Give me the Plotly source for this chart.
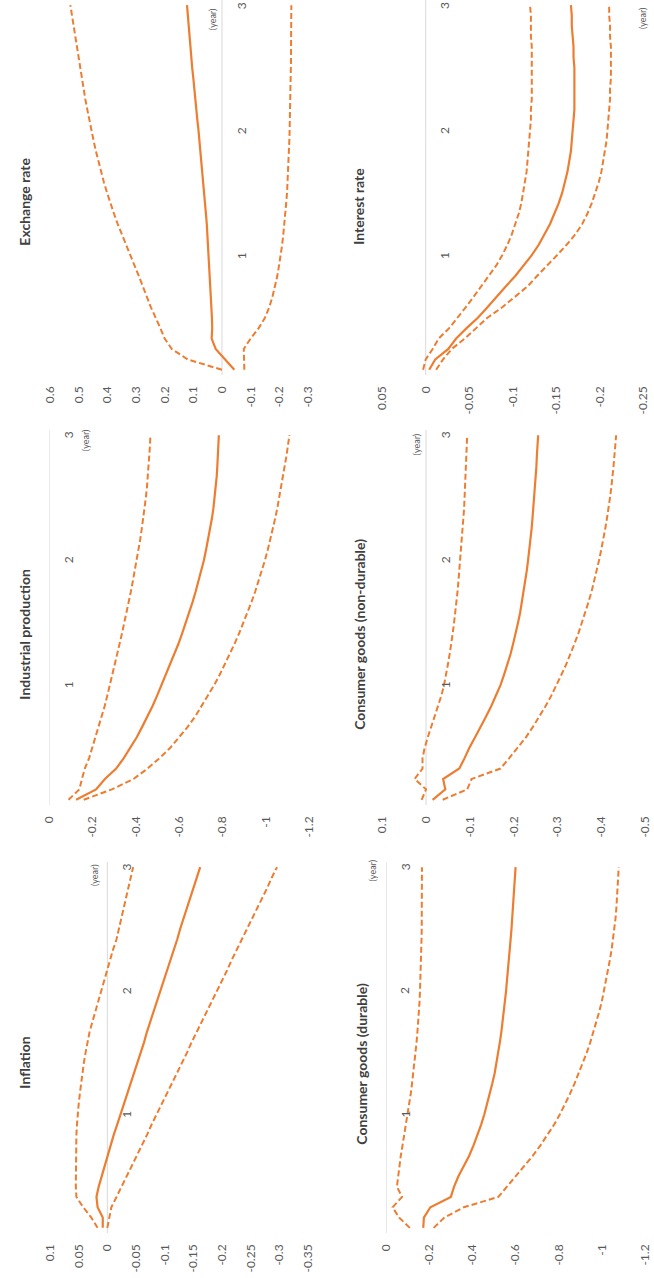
import plotly.graph_objects as go

# ---------------- data ----------------
months = list(range(1, 37))
year_ticks = [12, 24, 36]
year_labels = ["1", "2", "3"]

titles = ["Inflation", "Industrial production", "Exchange rate",
          "Consumer goods (durable)", "Consumer goods (non-durable)", "Interest rate"]

inflation_mid = [0.008, 0.008, 0.017, 0.019, 0.015, 0.010, 0.005, 0.000, -0.006, -0.011, -0.017, -0.023,
                 -0.029, -0.035, -0.040, -0.046, -0.052, -0.058, -0.064, -0.069, -0.075, -0.081, -0.087, -0.093,
                 -0.098, -0.104, -0.110, -0.116, -0.122, -0.127, -0.133, -0.139, -0.145, -0.150, -0.156, -0.162]
inflation_hi = [0.017, 0.028, 0.042, 0.054, 0.055, 0.055, 0.055, 0.055, 0.055, 0.054, 0.053, 0.052,
                0.050, 0.048, 0.046, 0.044, 0.041, 0.038, 0.035, 0.031, 0.026, 0.021, 0.016, 0.010,
                0.005, 0.000, -0.005, -0.010, -0.016, -0.020, -0.024, -0.029, -0.033, -0.037, -0.041, -0.045]
inflation_lo = [0.000, -0.003, -0.007, -0.016, -0.025, -0.034, -0.042, -0.051, -0.060, -0.069, -0.077, -0.086,
                -0.095, -0.104, -0.112, -0.121, -0.130, -0.139, -0.147, -0.156, -0.165, -0.174, -0.182, -0.191,
                -0.200, -0.209, -0.217, -0.226, -0.235, -0.244, -0.252, -0.261, -0.270, -0.279, -0.287, -0.296]

indprod_mid = [-0.125, -0.217, -0.258, -0.310, -0.345, -0.377, -0.405, -0.430, -0.455, -0.478, -0.499, -0.519,
               -0.540, -0.560, -0.580, -0.598, -0.615, -0.632, -0.648, -0.663, -0.677, -0.690, -0.703, -0.715,
               -0.725, -0.735, -0.744, -0.752, -0.759, -0.765, -0.770, -0.774, -0.777, -0.780, -0.782, -0.784]
indprod_hi = [-0.090, -0.140, -0.152, -0.165, -0.185, -0.200, -0.215, -0.230, -0.244, -0.257, -0.269, -0.281,
              -0.293, -0.304, -0.315, -0.326, -0.337, -0.348, -0.358, -0.368, -0.378, -0.387, -0.396, -0.405,
              -0.413, -0.421, -0.428, -0.435, -0.441, -0.447, -0.452, -0.456, -0.460, -0.463, -0.466, -0.468]
indprod_lo = [-0.160, -0.290, -0.390, -0.455, -0.510, -0.560, -0.600, -0.640, -0.675, -0.705, -0.735, -0.762,
              -0.788, -0.812, -0.835, -0.857, -0.878, -0.898, -0.917, -0.935, -0.952, -0.968, -0.983, -0.997,
              -1.010, -1.022, -1.033, -1.044, -1.054, -1.063, -1.072, -1.080, -1.088, -1.096, -1.103, -1.110]

exrate_mid = [-0.043, -0.012, 0.022, 0.036, 0.034, 0.035, 0.037, 0.038, 0.039, 0.041, 0.043, 0.045,
              0.047, 0.050, 0.053, 0.056, 0.059, 0.062, 0.065, 0.068, 0.071, 0.074, 0.078, 0.082,
              0.086, 0.089, 0.093, 0.097, 0.100, 0.104, 0.107, 0.110, 0.113, 0.116, 0.119, 0.122]
exrate_hi = [0.000, 0.120, 0.175, 0.200, 0.215, 0.232, 0.248, 0.262, 0.275, 0.290, 0.305, 0.320,
             0.335, 0.350, 0.364, 0.377, 0.390, 0.401, 0.412, 0.422, 0.431, 0.440, 0.448, 0.456,
             0.463, 0.470, 0.477, 0.483, 0.489, 0.495, 0.501, 0.507, 0.513, 0.518, 0.524, 0.529]
exrate_lo = [-0.078, -0.077, -0.076, -0.100, -0.128, -0.150, -0.165, -0.176, -0.185, -0.193, -0.199, -0.205,
             -0.210, -0.214, -0.218, -0.221, -0.224, -0.227, -0.229, -0.231, -0.233, -0.234, -0.235, -0.236,
             -0.237, -0.238, -0.239, -0.239, -0.240, -0.240, -0.241, -0.241, -0.241, -0.242, -0.242, -0.242]

durable_mid = [-0.172, -0.175, -0.205, -0.300, -0.315, -0.335, -0.360, -0.385, -0.405, -0.423, -0.440, -0.455,
               -0.468, -0.480, -0.492, -0.503, -0.512, -0.520, -0.527, -0.534, -0.540, -0.546, -0.551, -0.556,
               -0.560, -0.565, -0.569, -0.573, -0.577, -0.581, -0.584, -0.588, -0.591, -0.594, -0.597, -0.600]
durable_hi = [-0.110, -0.060, -0.030, -0.074, -0.050, -0.055, -0.062, -0.068, -0.076, -0.084, -0.092, -0.100,
              -0.107, -0.114, -0.120, -0.126, -0.132, -0.137, -0.141, -0.145, -0.149, -0.152, -0.155, -0.157,
              -0.159, -0.161, -0.162, -0.163, -0.164, -0.165, -0.165, -0.166, -0.166, -0.166, -0.166, -0.166]
durable_lo = [-0.220, -0.270, -0.360, -0.520, -0.560, -0.600, -0.640, -0.680, -0.715, -0.748, -0.778, -0.805,
              -0.830, -0.852, -0.873, -0.893, -0.912, -0.930, -0.946, -0.961, -0.975, -0.988, -1.000, -1.010,
              -1.020, -1.029, -1.037, -1.045, -1.052, -1.058, -1.063, -1.067, -1.070, -1.073, -1.076, -1.078]

nondur_mid = [-0.015, -0.044, -0.039, -0.076, -0.088, -0.099, -0.112, -0.125, -0.137, -0.149, -0.160, -0.170,
              -0.178, -0.186, -0.193, -0.199, -0.205, -0.210, -0.215, -0.219, -0.223, -0.227, -0.230, -0.233,
              -0.236, -0.239, -0.241, -0.243, -0.245, -0.247, -0.249, -0.250, -0.252, -0.253, -0.255, -0.256]
nondur_hi = [0.010, 0.000, 0.026, 0.008, 0.008, 0.003, -0.004, -0.012, -0.020, -0.028, -0.035, -0.041,
             -0.046, -0.050, -0.054, -0.058, -0.061, -0.064, -0.067, -0.070, -0.072, -0.074, -0.076, -0.078,
             -0.080, -0.082, -0.084, -0.085, -0.087, -0.088, -0.089, -0.090, -0.091, -0.092, -0.093, -0.094]
nondur_lo = [-0.038, -0.094, -0.104, -0.170, -0.190, -0.210, -0.228, -0.244, -0.259, -0.273, -0.286, -0.298,
             -0.309, -0.320, -0.330, -0.339, -0.348, -0.356, -0.364, -0.371, -0.378, -0.384, -0.390, -0.395,
             -0.400, -0.405, -0.409, -0.413, -0.417, -0.420, -0.423, -0.426, -0.428, -0.430, -0.432, -0.434]

interest_mid = [-0.004, -0.011, -0.026, -0.035, -0.047, -0.060, -0.071, -0.081, -0.092, -0.103, -0.113, -0.122,
                -0.130, -0.137, -0.143, -0.148, -0.153, -0.157, -0.160, -0.163, -0.165, -0.167, -0.168, -0.169,
                -0.170, -0.171, -0.171, -0.171, -0.171, -0.171, -0.170, -0.170, -0.169, -0.168, -0.168, -0.167]
interest_hi = [0.003, 0.000, -0.008, -0.015, -0.027, -0.037, -0.046, -0.055, -0.064, -0.073, -0.081, -0.088,
               -0.094, -0.099, -0.103, -0.107, -0.110, -0.112, -0.114, -0.116, -0.117, -0.118, -0.119, -0.120,
               -0.121, -0.121, -0.122, -0.122, -0.122, -0.122, -0.122, -0.122, -0.121, -0.121, -0.121, -0.120]
interest_lo = [-0.012, -0.020, -0.030, -0.045, -0.058, -0.071, -0.088, -0.102, -0.117, -0.128, -0.140, -0.151,
               -0.162, -0.172, -0.180, -0.186, -0.191, -0.195, -0.199, -0.202, -0.204, -0.206, -0.208, -0.209,
               -0.210, -0.211, -0.212, -0.212, -0.213, -0.213, -0.213, -0.213, -0.212, -0.212, -0.211, -0.211]

inflation_ticks = [0.1, 0.05, 0, -0.05, -0.1, -0.15, -0.2, -0.25, -0.3, -0.35]
inflation_ticktext = ["0.1", "0.05", "0", "-0.05", "-0.1", "-0.15", "-0.2", "-0.25", "-0.3", "-0.35"]
level_ticks = [0, -0.2, -0.4, -0.6, -0.8, -1.0, -1.2]
level_ticktext = ["0", "-0.2", "-0.4", "-0.6", "-0.8", "-1", "-1.2"]
exrate_ticks = [0.6, 0.5, 0.4, 0.3, 0.2, 0.1, 0, -0.1, -0.2, -0.3]
exrate_ticktext = ["0.6", "0.5", "0.4", "0.3", "0.2", "0.1", "0", "-0.1", "-0.2", "-0.3"]
nondur_ticks = [0.1, 0, -0.1, -0.2, -0.3, -0.4, -0.5]
nondur_ticktext = ["0.1", "0", "-0.1", "-0.2", "-0.3", "-0.4", "-0.5"]
interest_ticks = [0.05, 0, -0.05, -0.1, -0.15, -0.2, -0.25]
interest_ticktext = ["0.05", "0", "-0.05", "-0.1", "-0.15", "-0.2", "-0.25"]

series = [
    (inflation_mid, inflation_hi, inflation_lo),
    (indprod_mid, indprod_hi, indprod_lo),
    (exrate_mid, exrate_hi, exrate_lo),
    (durable_mid, durable_hi, durable_lo),
    (nondur_mid, nondur_hi, nondur_lo),
    (interest_mid, interest_hi, interest_lo),
]
ticks = [
    (inflation_ticks, inflation_ticktext),
    (level_ticks, level_ticktext),
    (exrate_ticks, exrate_ticktext),
    (level_ticks, level_ticktext),
    (nondur_ticks, nondur_ticktext),
    (interest_ticks, interest_ticktext),
]

# ---------------- layout geometry (pixels of the rotated page) ----------------
W, H = 654, 1278
ORANGE = "#ED7D31"
GREY = "#595959"
TITLE = "#404040"
FONT = "Lato, 'Open Sans', sans-serif"

# value axis horizontal extent (px), time axis vertical extent (px)
panel_x = [(43, 307), (42, 308), (43, 307), (387, 652), (383, 652), (383, 650)]
panel_y = [(862, 1233), (430, 805), (0, 375), (862, 1233), (430, 805), (0, 375)]
title_pos = [(16, 1063), (16, 634), (16, 202), (361, 1064), (359, 634), (358, 206)]
yearword_pos = [(88, 875), (80, 440), (210, 19), (373, 870), (418, 444), (650, 18)]


def px(xp):
    return xp / W


def py(yp):
    return 1 - yp / H


fig = go.Figure()
layout = dict(
    width=W, height=H,
    margin=dict(l=0, r=0, t=0, b=0),
    paper_bgcolor="white", plot_bgcolor="white",
    showlegend=False,
    font=dict(family=FONT, color=GREY, size=12),
)
shapes = []
annotations = []

for i in range(6):
    n = i + 1
    sx = "" if n == 1 else str(n)
    xa, ya = "x" + sx, "y" + sx
    mid, hi, lo = series[i]
    tv, tt = ticks[i]
    for vals, dash, w in ((hi, "6px,3px", 2), (lo, "6px,3px", 2), (mid, "solid", 2.2)):
        fig.add_trace(go.Scatter(x=vals, y=months, mode="lines", xaxis=xa, yaxis=ya,
                                 line=dict(color=ORANGE, width=w, dash=dash),
                                 hoverinfo="skip"))
    x0, x1 = panel_x[i]
    y0, y1 = panel_y[i]
    layout["xaxis" + sx] = dict(
        domain=[px(x0), px(x1)], anchor=ya,
        range=[tv[0], tv[-1]], autorange=False,
        tickmode="array", tickvals=tv, ticktext=tt, tickangle=-90,
        showgrid=False, zeroline=False, showline=False, ticks="",
        ticklabelstandoff=8, ticklabeloverflow="allow",
        tickfont=dict(family=FONT, size=12, color=GREY),
    )
    layout["yaxis" + sx] = dict(
        domain=[py(y1), py(y0)], anchor=xa,
        range=[0.5, 36.5], autorange=False,
        showgrid=False, zeroline=False, showline=False,
        showticklabels=False, ticks="",
    )
    shapes.append(dict(type="line", xref=xa, yref=ya, x0=0, x1=0, y0=0.5, y1=36.5,
                       line=dict(color="#D9D9D9", width=1), layer="below"))
    for yt, lab in zip(year_ticks, year_labels):
        annotations.append(dict(xref=xa, yref=ya, x=0, y=yt, text=lab, showarrow=False,
                                xshift=19, textangle=-90, xanchor="center", yanchor="middle",
                                font=dict(family=FONT, size=12, color=GREY)))
    wx, wy = yearword_pos[i]
    annotations.append(dict(xref="paper", yref="paper", x=px(wx), y=py(wy), text="(year)",
                            showarrow=False, textangle=-90, xanchor="center", yanchor="middle",
                            font=dict(family=FONT, size=9, color=GREY)))
    tx, ty = title_pos[i]
    annotations.append(dict(xref="paper", yref="paper", x=px(tx), y=py(ty),
                            text="<b>" + titles[i] + "</b>",
                            showarrow=False, textangle=-90, xanchor="center", yanchor="middle",
                            font=dict(family=FONT, size=14, color=TITLE)))

layout["shapes"] = shapes
layout["annotations"] = annotations
fig.update_layout(**layout)
fig.write_html("out.html",
               config={"displayModeBar": False, "staticPlot": True},
               post_script="document.body.style.margin='0';document.body.style.overflow='hidden';")
